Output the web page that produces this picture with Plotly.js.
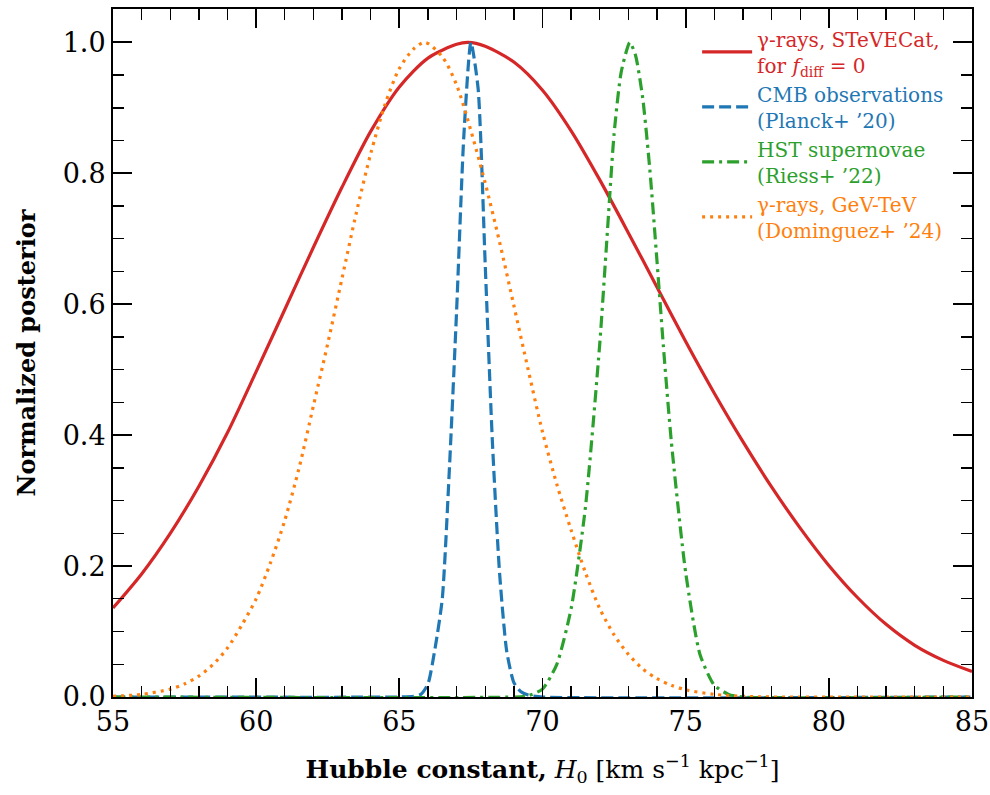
<!DOCTYPE html>
<html>
<head>
<meta charset="utf-8">
<script src="https://cdn.plot.ly/plotly-3.0.1.min.js"></script>
<style>html,body{margin:0;padding:0;background:#fff;}#chart{width:990px;height:795px;}</style>
</head>
<body>
<div id="chart"></div>
<script>
// STeVECat gamma-ray posterior (red, solid)
const steveX = [55,56,57,58,59,60,61,62,63,64,65,66,67,67.4,68,69,70,71,72,73,74,75,76,77,78,79,80,81,82,83,84,85];
const steveY = [0.136,0.188,0.250,0.322,0.404,0.497,0.592,0.687,0.779,0.864,0.932,0.976,0.997,1.0,0.994,0.970,0.927,0.865,0.790,0.709,0.626,0.543,0.464,0.390,0.321,0.258,0.201,0.152,0.111,0.079,0.056,0.039];

// Planck CMB posterior (blue, dashed)
const planckX = [55,65,65.5,65.75,66,66.25,66.5,66.75,67,67.25,67.5,67.75,68,68.25,68.5,68.75,69,69.25,69.5,70,85];
const planckY = [0,0,0.001,0.004,0.02,0.075,0.15,0.35,0.59,0.855,1.0,0.93,0.66,0.39,0.19,0.07,0.022,0.008,0.003,0,0];

// Riess HST supernovae posterior (green, dash-dot)
const riessX = [55,69,69.5,70,70.5,71,71.5,72,72.25,72.5,72.75,73.05,73.25,73.5,73.75,74,74.25,74.5,75,75.5,76,76.5,77,85];
const riessY = [0,0,0.002,0.012,0.05,0.135,0.29,0.54,0.70,0.86,0.955,1.0,0.98,0.915,0.805,0.665,0.52,0.39,0.19,0.065,0.018,0.004,0,0];

// Dominguez GeV-TeV gamma-ray posterior (orange, dotted)
const domX = [55,56,57,57.5,58,58.5,59,59.5,60,60.5,61,61.5,62,62.5,63,63.5,64,64.5,65,65.5,65.9,66.5,67,67.5,68,68.5,69,69.5,70,70.5,71,71.5,72,72.5,73,73.5,74,74.5,75,76,77,78,85];
const domY = [0.001,0.004,0.012,0.02,0.032,0.05,0.075,0.11,0.15,0.205,0.27,0.35,0.445,0.54,0.64,0.74,0.83,0.905,0.96,0.99,1.0,0.978,0.935,0.865,0.785,0.695,0.598,0.50,0.405,0.325,0.255,0.19,0.135,0.095,0.065,0.043,0.028,0.018,0.011,0.004,0.001,0,0];

const names = [
  '<span style="color:#d62728">γ-rays, STeVECat,<br>for <i>f</i><sub>diff</sub> = 0</span>',
  '<span style="color:#1f77b4">CMB observations<br>(Planck+ ’20)</span>',
  '<span style="color:#2ca02c">HST supernovae<br>(Riess+ ’22)</span>',
  '<span style="color:#ff7f0e">γ-rays, GeV-TeV<br>(Dominguez+ ’24)</span>'
];

const traces = [
  {x: steveX, y: steveY, name: names[0], mode: 'lines', line: {color: '#d62728', width: 3.2, shape: 'spline', smoothing: 0.8}},
  {x: planckX, y: planckY, name: names[1], mode: 'lines', line: {color: '#1f77b4', width: 3.2, dash: '12px,5px', shape: 'spline', smoothing: 0.6}},
  {x: riessX, y: riessY, name: names[2], mode: 'lines', line: {color: '#2ca02c', width: 3.2, dash: '12px,5px,3px,5px', shape: 'spline', smoothing: 0.6}},
  {x: domX, y: domY, name: names[3], mode: 'lines', line: {color: '#ff7f0e', width: 3.2, dash: '3px,5px', shape: 'spline', smoothing: 0.8}}
];

const font = 'DejaVu Serif';
const axisCommon = {
  showline: true, linecolor: '#000', linewidth: 2, mirror: 'allticks',
  ticks: 'inside', ticklen: 19, tickwidth: 1.8, tickcolor: '#000',
  showgrid: false, zeroline: false,
  tickfont: {family: font, size: 27, color: '#000'}
};

const layout = {
  width: 990, height: 795,
  paper_bgcolor: '#fff', plot_bgcolor: '#fff',
  margin: {l: 113, r: 18, t: 9, b: 98},
  font: {family: font, color: '#000'},
  showlegend: true,
  legend: {x: 0.68, y: 0.985, xanchor: 'left', yanchor: 'top', bgcolor: 'rgba(0,0,0,0)',
           font: {family: font, size: 20}, tracegroupgap: 0, itemwidth: 50},
  xaxis: Object.assign({}, axisCommon, {
    range: [55, 85], dtick: 5, tick0: 55,
    minor: {dtick: 1, ticks: 'inside', ticklen: 11, tickwidth: 1.3, tickcolor: '#000'},
    title: {text: '<b>Hubble constant,</b> <i>H</i><sub>0</sub> [km s<sup>−1</sup> kpc<sup>−1</sup>]', font: {family: font, size: 25}, standoff: 24}
  }),
  yaxis: Object.assign({}, axisCommon, {
    range: [0, 1.051], dtick: 0.2, tick0: 0, tickformat: '.1f',
    minor: {dtick: 0.05, ticks: 'inside', ticklen: 11, tickwidth: 1.3, tickcolor: '#000'},
    title: {text: '<b>Normalized posterior</b>', font: {family: font, size: 24}, standoff: 20}
  })
};

Plotly.newPlot('chart', traces, layout, {displayModeBar: false, staticPlot: true});
</script>
</body>
</html>
